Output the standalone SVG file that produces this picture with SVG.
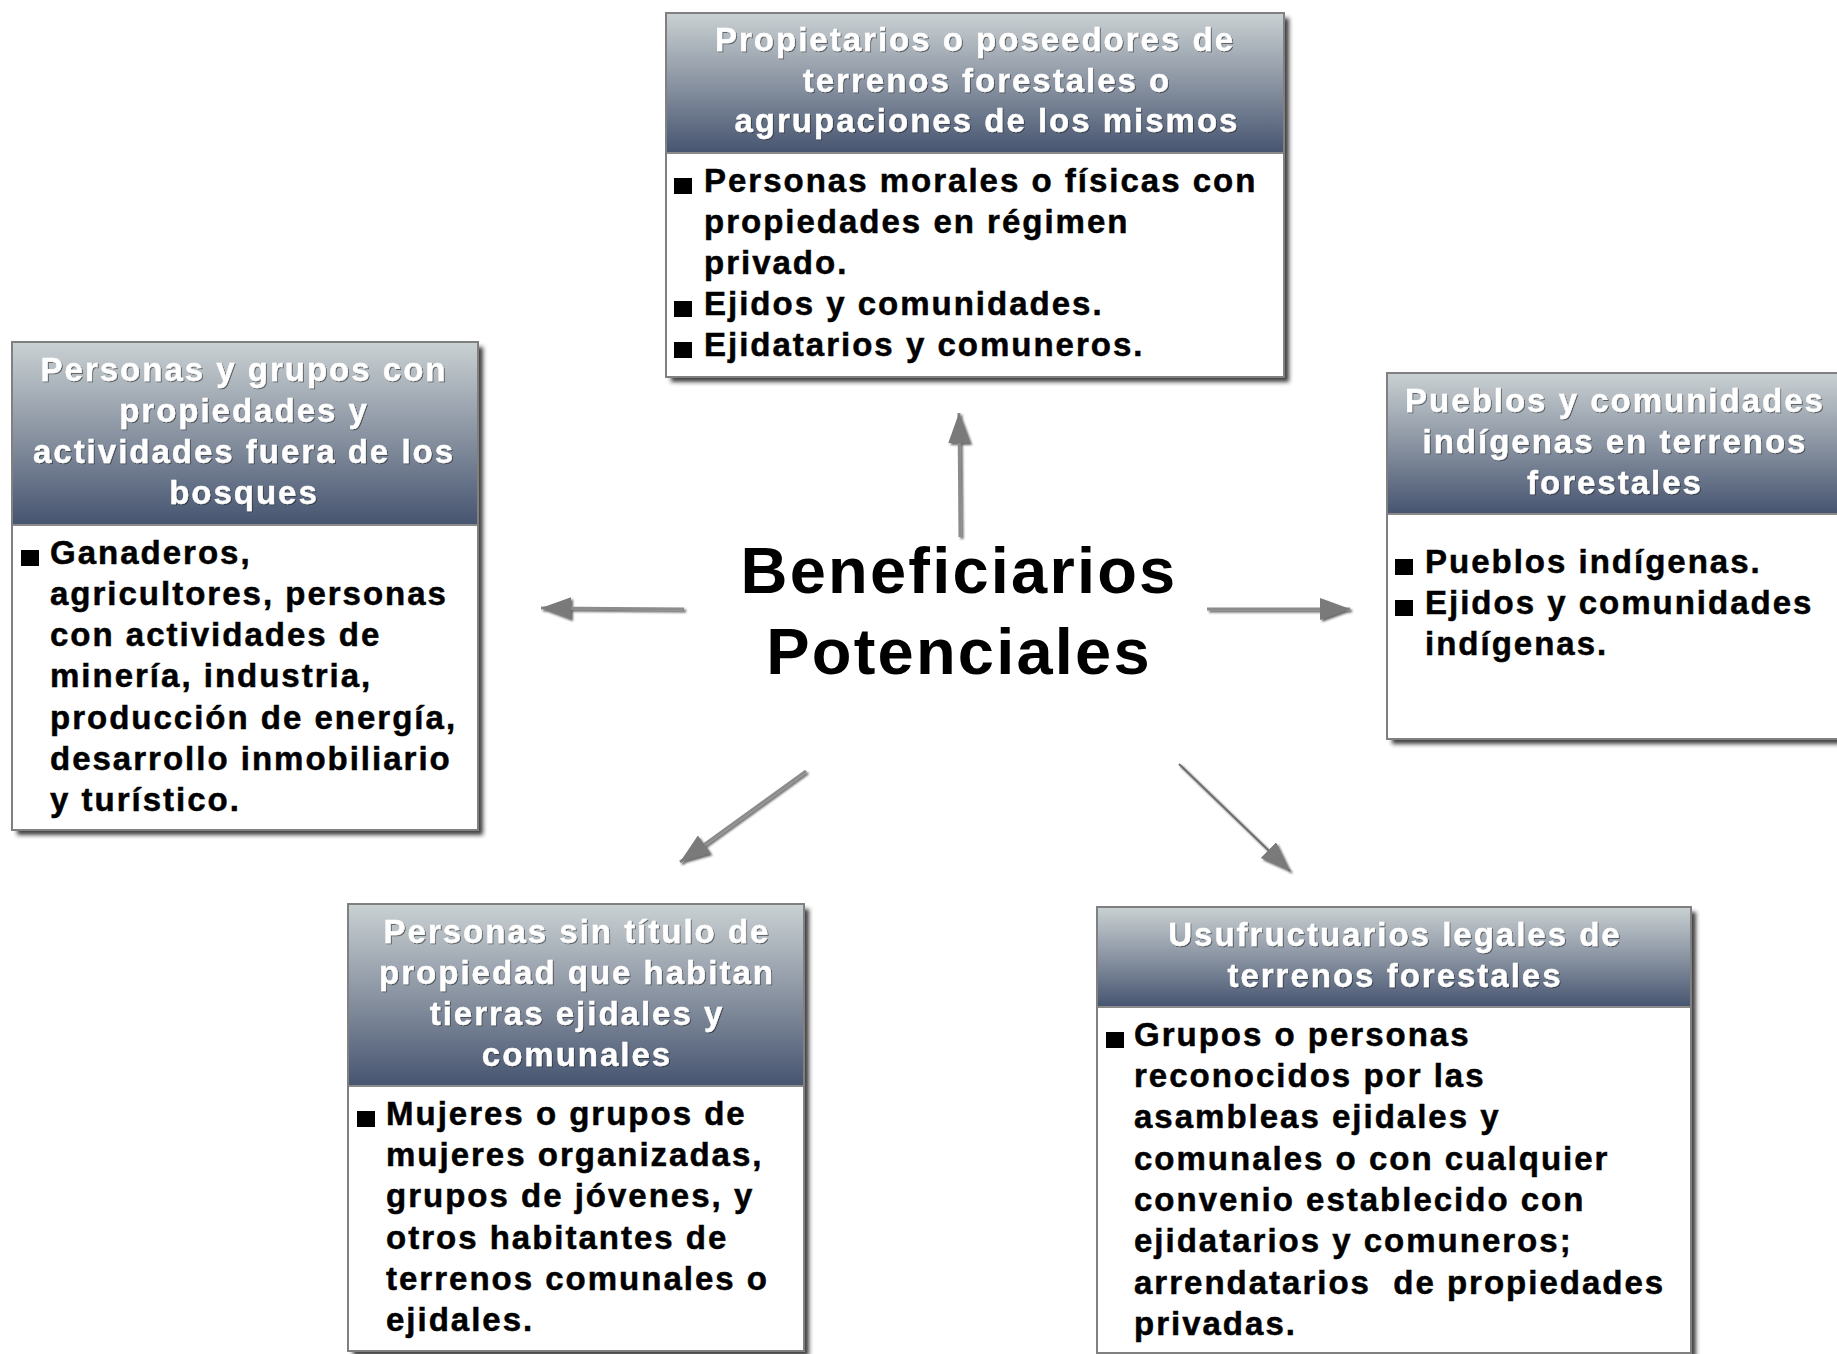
<svg xmlns="http://www.w3.org/2000/svg" width="1837" height="1354" viewBox="0 0 1837 1354">
<defs>
  <linearGradient id="hg" x1="0" y1="0" x2="0" y2="1">
    <stop offset="0" stop-color="#cad1d3"/>
    <stop offset="0.5" stop-color="#8a94a2"/>
    <stop offset="1" stop-color="#465470"/>
  </linearGradient>
  <filter id="boxsh" x="-5%" y="-5%" width="115%" height="115%">
    <feDropShadow dx="5" dy="5" stdDeviation="2.2" flood-color="#222" flood-opacity="0.85"/>
  </filter>
  <filter id="txtsh" x="-5%" y="-20%" width="110%" height="140%">
    <feDropShadow dx="1" dy="1" stdDeviation="0.6" flood-color="#222" flood-opacity="0.6"/>
  </filter>
  <filter id="arrsh" x="-20%" y="-20%" width="140%" height="140%">
    <feDropShadow dx="2" dy="2" stdDeviation="1" flood-color="#333" flood-opacity="0.75"/>
  </filter>
  <marker id="ah" markerUnits="userSpaceOnUse" markerWidth="32" markerHeight="24" refX="30" refY="11" orient="auto">
    <path d="M0,0 L30,11 L0,22 z" fill="#7a7a7a"/>
  </marker>
</defs>
<style>
  .box { fill: #fff; filter: url(#boxsh); }
  .outl { fill: none; stroke: #808080; stroke-width: 2; }
  .hbg { fill: url(#hg); }
  .sep { stroke: #8a8a8a; stroke-width: 2; }
  .hdr { font-family: 'Liberation Sans', Arial, sans-serif; font-weight: bold; font-size: 33px; fill: #fff; stroke: #fff; stroke-width: 0.4; letter-spacing: 2px; text-anchor: middle; filter: url(#txtsh); }
  .body { font-family: 'Liberation Sans', Arial, sans-serif; font-weight: bold; font-size: 33px; fill: #000; stroke: #000; stroke-width: 0.5; letter-spacing: 2px; white-space: pre; }
  .bul { fill: #000; }
  .title { font-family: 'Liberation Sans', Arial, sans-serif; font-weight: bold; font-size: 65px; fill: #000; letter-spacing: 2.2px; text-anchor: middle; }
  .conn { stroke: #8c8c8c; stroke-width: 3; fill: none; marker-end: url(#ah); }
  .conn.thin { stroke: #6e6e6e; stroke-width: 2; }
</style>
<rect width="1837" height="1354" fill="#fff"/>

<g id="connectors" filter="url(#arrsh)">
  <line class="conn" x1="960" y1="537" x2="959" y2="413"/>
  <line class="conn" x1="684" y1="609" x2="541" y2="608"/>
  <line class="conn" x1="1207" y1="609" x2="1350" y2="609"/>
  <line class="conn" x1="806" y1="771" x2="680" y2="862"/>
  <line class="conn thin" x1="1179" y1="764" x2="1290" y2="871"/>
</g>

<g id="center">
  <text class="title" x="959" y="593">Beneficiarios</text>
  <text class="title" x="959" y="674">Potenciales</text>
</g>

<g id="node-top">
  <rect class="box" x="666" y="13" width="618" height="364"/>
  <rect class="hbg" x="666" y="13" width="618" height="140"/>
  <line class="sep" x1="666" y1="153" x2="1284" y2="153"/>
  <rect class="outl" x="666" y="13" width="618" height="364"/>
  <text class="hdr" x="975" y="51">Propietarios o poseedores de</text>
  <text class="hdr" x="987" y="92">terrenos forestales o</text>
  <text class="hdr" x="987" y="132">agrupaciones de los mismos</text>
  <rect class="bul" x="674" y="178" width="18" height="16"/>
  <rect class="bul" x="674" y="301" width="18" height="16"/>
  <rect class="bul" x="674" y="342" width="18" height="16"/>
  <text class="body" x="704" y="192">Personas morales o físicas con</text>
  <text class="body" x="704" y="233">propiedades en régimen</text>
  <text class="body" x="704" y="274">privado.</text>
  <text class="body" x="704" y="315">Ejidos y comunidades.</text>
  <text class="body" x="704" y="356">Ejidatarios y comuneros.</text>
</g>

<g id="node-left">
  <rect class="box" x="12" y="342" width="466" height="488"/>
  <rect class="hbg" x="12" y="342" width="466" height="183"/>
  <line class="sep" x1="12" y1="525" x2="478" y2="525"/>
  <rect class="outl" x="12" y="342" width="466" height="488"/>
  <text class="hdr" x="244" y="381">Personas y grupos con</text>
  <text class="hdr" x="244" y="422">propiedades y</text>
  <text class="hdr" x="244" y="463">actividades fuera de los</text>
  <text class="hdr" x="244" y="504">bosques</text>
  <rect class="bul" x="21" y="550" width="18" height="16"/>
  <text class="body" x="50" y="564">Ganaderos,</text>
  <text class="body" x="50" y="605">agricultores, personas</text>
  <text class="body" x="50" y="646">con actividades de</text>
  <text class="body" x="50" y="687">minería, industria,</text>
  <text class="body" x="50" y="729">producción de energía,</text>
  <text class="body" x="50" y="770">desarrollo inmobiliario</text>
  <text class="body" x="50" y="811">y turístico.</text>
</g>

<g id="node-right">
  <rect class="box" x="1387" y="373" width="456" height="366"/>
  <rect class="hbg" x="1387" y="373" width="456" height="141"/>
  <line class="sep" x1="1387" y1="514" x2="1843" y2="514"/>
  <rect class="outl" x="1387" y="373" width="456" height="366"/>
  <text class="hdr" x="1615" y="412">Pueblos y comunidades</text>
  <text class="hdr" x="1615" y="453">indígenas en terrenos</text>
  <text class="hdr" x="1615" y="494">forestales</text>
  <rect class="bul" x="1395" y="559" width="18" height="16"/>
  <rect class="bul" x="1395" y="600" width="18" height="16"/>
  <text class="body" x="1425" y="573">Pueblos indígenas.</text>
  <text class="body" x="1425" y="614">Ejidos y comunidades</text>
  <text class="body" x="1425" y="655">indígenas.</text>
</g>

<g id="node-bottom-left">
  <rect class="box" x="348" y="904" width="456" height="447"/>
  <rect class="hbg" x="348" y="904" width="456" height="182"/>
  <line class="sep" x1="348" y1="1086" x2="804" y2="1086"/>
  <rect class="outl" x="348" y="904" width="456" height="447"/>
  <text class="hdr" x="577" y="943">Personas sin título de</text>
  <text class="hdr" x="577" y="984">propiedad que habitan</text>
  <text class="hdr" x="577" y="1025">tierras ejidales y</text>
  <text class="hdr" x="577" y="1066">comunales</text>
  <rect class="bul" x="357" y="1111" width="18" height="16"/>
  <text class="body" x="386" y="1125">Mujeres o grupos de</text>
  <text class="body" x="386" y="1166">mujeres organizadas,</text>
  <text class="body" x="386" y="1207">grupos de jóvenes, y</text>
  <text class="body" x="386" y="1249">otros habitantes de</text>
  <text class="body" x="386" y="1290">terrenos comunales o</text>
  <text class="body" x="386" y="1331">ejidales.</text>
</g>

<g id="node-bottom-right">
  <rect class="box" x="1097" y="907" width="594" height="446"/>
  <rect class="hbg" x="1097" y="907" width="594" height="100"/>
  <line class="sep" x1="1097" y1="1007" x2="1691" y2="1007"/>
  <rect class="outl" x="1097" y="907" width="594" height="446"/>
  <text class="hdr" x="1395" y="946">Usufructuarios legales de</text>
  <text class="hdr" x="1395" y="987">terrenos forestales</text>
  <rect class="bul" x="1106" y="1032" width="18" height="16"/>
  <text class="body" x="1134" y="1046">Grupos o personas</text>
  <text class="body" x="1134" y="1087">reconocidos por las</text>
  <text class="body" x="1134" y="1128">asambleas ejidales y</text>
  <text class="body" x="1134" y="1170">comunales o con cualquier</text>
  <text class="body" x="1134" y="1211">convenio establecido con</text>
  <text class="body" x="1134" y="1252">ejidatarios y comuneros;</text>
  <text class="body" x="1134" y="1294">arrendatarios  de propiedades</text>
  <text class="body" x="1134" y="1335">privadas.</text>
</g>
</svg>
